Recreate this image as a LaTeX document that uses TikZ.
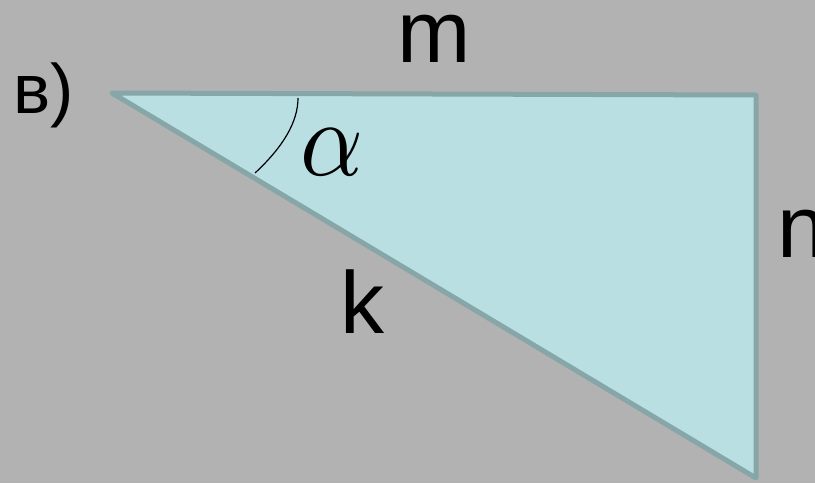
\documentclass[tikz,border=0pt]{standalone}
\usepackage{fontspec}
\setmainfont{Liberation Sans}
\usepackage{tikz}
\usetikzlibrary{positioning}
\definecolor{bgray}{RGB}{178,178,178}
\definecolor{tfill}{RGB}{185,223,227}
\definecolor{tedge}{RGB}{134,166,168}

\begin{document}
\begin{tikzpicture}[x=0.5pt, y=-0.5pt,
  side/.style={font=\fontsize{44}{44}\selectfont, inner sep=0pt, anchor=base},
  tri/.style={fill=tfill, draw=tedge, line width=2.5pt, line join=round}]
  \fill[bgray] (0,0) rectangle (815,483);
  \useasboundingbox (0,0) rectangle (815,483);
  \coordinate (A) at (112,93);
  \coordinate (B) at (756,95);
  \coordinate (C) at (756,478);
  \draw[tri] (A) -- (B) -- (C) -- cycle;
  \draw[line width=0.6pt] (255,173) .. controls (283,147) and (298,122) .. (298,98);
  % labels
  \node[side, anchor=base west, font=\fontsize{35}{35}\selectfont] (lbl) at (13,113) {в)};
  \node[side] (m) at (434,62) {m};
  \node[side] (k) at (362,333) {k};
  \node[side, anchor=base west] (n) at (777,257) {n};
  \node[inner sep=0pt, anchor=base west] (alpha) at (300,175) {\scalebox{4.9}[5.4]{$\alpha$}};
\end{tikzpicture}
\end{document}
